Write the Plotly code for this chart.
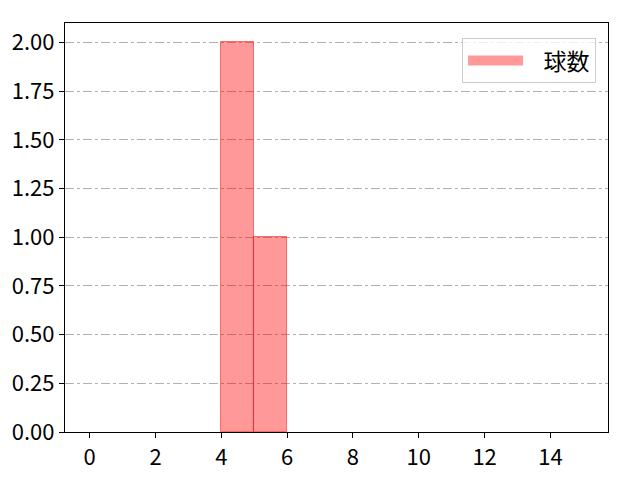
import plotly.graph_objects as go

bin_left = [4, 5]
counts = [2, 1]
bin_width = 1
series_name = "球数"
x_ticks = [0, 2, 4, 6, 8, 10, 12, 14]
y_ticks = [0, 0.25, 0.5, 0.75, 1.0, 1.25, 1.5, 1.75, 2.0]

font = "Noto Sans CJK JP"
fill = "rgba(255,0,0,0.4)"

fig = go.Figure()
fig.add_trace(go.Bar(
    x=[b + bin_width / 2 for b in bin_left],
    y=counts,
    width=[bin_width] * len(counts),
    name=series_name,
    marker=dict(color=fill, line=dict(color="rgba(255,0,0,0.5)", width=1)),
    showlegend=False,
))
# legend entry drawn as a wide patch, like the reference
fig.add_trace(go.Scatter(
    x=[None], y=[None], mode="lines", name="\u00a0\u00a0\u00a0" + series_name,
    line=dict(color=fill, width=19), showlegend=True, hoverinfo="skip",
))

fig.update_layout(
    width=640, height=480,
    margin=dict(l=57, r=40, t=15, b=56),
    paper_bgcolor="white", plot_bgcolor="white",
    font=dict(family=font, size=22, color="black"),
    bargap=0,
    showlegend=True,
    legend=dict(
        x=0.978, y=0.963, xanchor="right", yanchor="top",
        bordercolor="#cccccc", borderwidth=1, bgcolor="rgba(255,255,255,0.8)",
        font=dict(family=font, size=23),
        itemwidth=55,
    ),
    xaxis=dict(
        range=[-0.75, 15.75], tickvals=x_ticks, automargin=False,
        showgrid=False, zeroline=False,
        showline=True, linecolor="black", linewidth=1.3, mirror=True,
        ticks="outside", ticklen=5, tickcolor="black",
    ),
    yaxis=dict(
        range=[0, 2.1], tickvals=y_ticks, tickformat=".2f", automargin=False,
        showgrid=True, gridcolor="#b0b0b0", griddash="dashdot", gridwidth=0.8,
        zeroline=False,
        showline=True, linecolor="black", linewidth=1.3, mirror=True,
        ticks="outside", ticklen=5, tickcolor="black",
    ),
)

fig.write_html("out.html")
